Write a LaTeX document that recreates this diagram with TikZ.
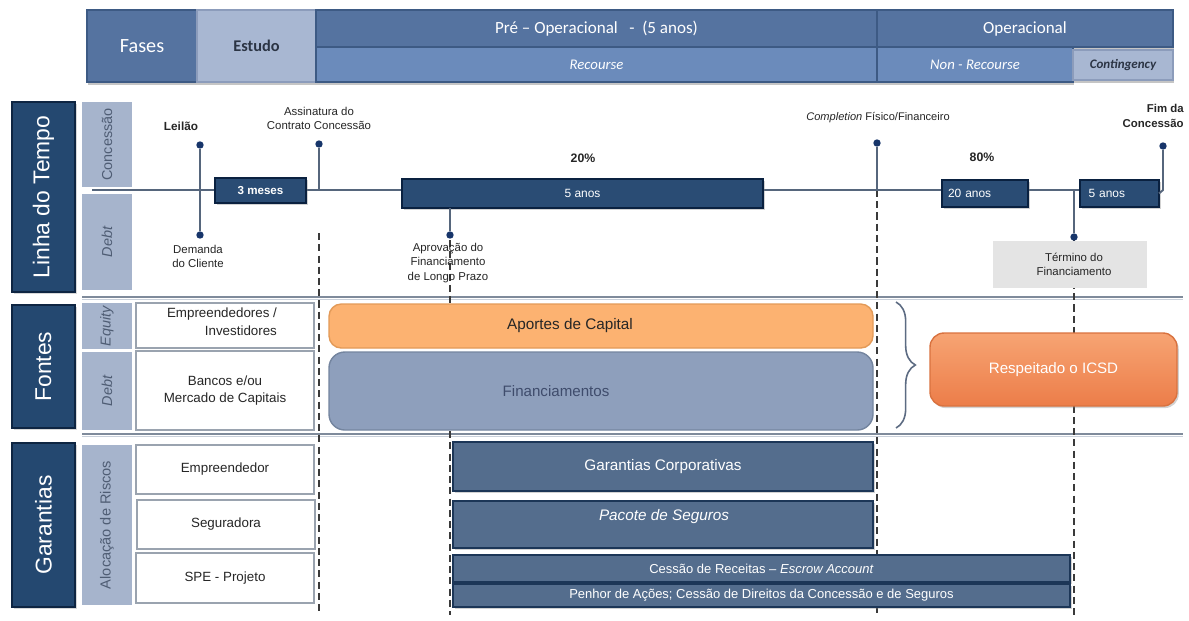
\documentclass[tikz,border=0pt]{standalone}
\usepackage{fontspec}
\setmainfont{Liberation Sans}
\newfontfamily\calfont{Carlito}
\usetikzlibrary{shadows,decorations.pathreplacing}
\definecolor{hdrA}{HTML}{5573A0}
\definecolor{hdrB}{HTML}{6B8BBB}
\definecolor{hdrP}{HTML}{A8B7D2}
\definecolor{hdrPE}{HTML}{8C9CBB}
\definecolor{hdrEdge}{HTML}{3D5A84}
\definecolor{navyF}{HTML}{244870}
\definecolor{navyE}{HTML}{0E2542}
\definecolor{colG}{HTML}{A6B4CC}
\definecolor{colT}{HTML}{4F5D74}
\definecolor{tlF}{HTML}{2A4C74}
\definecolor{tlE}{HTML}{0A2140}
\definecolor{barF}{HTML}{546D8D}
\definecolor{barE}{HTML}{1C3657}
\definecolor{orF}{HTML}{FCB271}
\definecolor{orE}{HTML}{E39A58}
\definecolor{finF}{HTML}{8E9FBC}
\definecolor{finE}{HTML}{74859F}
\definecolor{icsdT}{HTML}{F7A473}
\definecolor{icsdB}{HTML}{EC7D49}
\definecolor{icsdE}{HTML}{D9723F}
\definecolor{dotC}{HTML}{17356A}
\definecolor{lineC}{HTML}{56667C}
\definecolor{sepC}{HTML}{7F8B9B}
\definecolor{sepL}{HTML}{C9D0DA}
\definecolor{txtC}{HTML}{262626}
\definecolor{wboxE}{HTML}{9AA3AF}
\definecolor{dashC}{HTML}{3A3A3A}
\definecolor{braceC}{HTML}{5C6B82}
\definecolor{termF}{HTML}{E4E4E4}
\definecolor{paleT}{HTML}{2B3444}
\definecolor{finT}{HTML}{3F4C6C}
\newcommand\bx[8][]{\node[#2,anchor=north west,inner sep=0pt,outer sep=0pt,minimum width={(#6-#4)*0.02cm},minimum height={(#7-#5)*0.02cm},#1] (#3) at (#4,#5) {#8};}
\begin{document}
\begin{tikzpicture}[x=0.02cm,y=-0.02cm,
 hdrdark/.style={fill=hdrA,draw=hdrEdge,line width=0.6pt,text=white,drop shadow={shadow xshift=0.5pt,shadow yshift=-1.5pt,opacity=0.45}},
 hdrmid/.style={fill=hdrB,draw=hdrEdge,line width=0.6pt,text=white,drop shadow={shadow xshift=0.5pt,shadow yshift=-1.5pt,opacity=0.45}},
 hdrpale/.style={fill=hdrP,draw=hdrPE,line width=0.6pt,text=paleT,drop shadow={shadow xshift=0.5pt,shadow yshift=-1.5pt,opacity=0.45}},
 navybox/.style={fill=navyF,draw=navyE,line width=1.6pt,drop shadow={shadow xshift=1pt,shadow yshift=-1pt,opacity=0.3}},
 colbox/.style={fill=colG},
 termbx/.style={fill=termF},
 wbox/.style={fill=white,draw=wboxE,line width=0.7pt,text=txtC,align=center,font=\fontsize{7.6}{9.5}\selectfont,drop shadow={shadow xshift=0.8pt,shadow yshift=-0.8pt,opacity=0.25}},
 tlbox/.style={fill=tlF,draw=tlE,line width=1.5pt,text=white,font=\bfseries\fontsize{6.6}{8}\selectfont,drop shadow={shadow xshift=1pt,shadow yshift=-1pt,opacity=0.35}},
 gbar/.style={fill=barF,draw=barE,line width=1.3pt,text=white,drop shadow={shadow xshift=1pt,shadow yshift=-1pt,opacity=0.35}},
 ornbox/.style={rounded corners=7pt,fill=orF,draw=orE,line width=0.8pt},
 finbox/.style={rounded corners=9pt,fill=finF,draw=finE,line width=0.8pt},
 icsdbox/.style={rounded corners=8pt,top color=icsdT,bottom color=icsdB,draw=icsdE,line width=0.8pt,text=white,font=\fontsize{8.6}{10}\selectfont,drop shadow={shadow xshift=1pt,shadow yshift=-1.2pt,opacity=0.35}},
 tdot/.style={circle,fill=dotC,inner sep=0pt,minimum size=4.2pt},
 stem/.style={draw=lineC,line width=1.1pt},
 vdash/.style={draw=dashC,line width=1pt,dash pattern=on 4pt off 2.4pt},
 sepline/.style={draw=sepC,line width=1.3pt},
 lbl/.style={text=txtC,align=center,inner sep=0pt,font=\fontsize{6.5}{8}\selectfont},
 rottxt/.style={rotate=90,text=colT,inner sep=0pt}
]
\useasboundingbox (0,0) rectangle (1189,620);
\fill[white] (0,0) rectangle (1189,620);

% ---------- header ----------
\bx[font=\calfont\fontsize{11.5}{13}\selectfont]{hdrdark}{fases}{87}{10}{197}{82}{Fases}
\bx[font=\calfont\bfseries\fontsize{9.3}{11}\selectfont]{hdrpale}{estudo}{197}{10}{316}{82}{Estudo}
\bx[font=\calfont\fontsize{9.7}{11}\selectfont]{hdrdark}{preop}{316}{10}{877}{47}{Pré – Operacional \ \ -\ \ (5 anos)}
\bx[font=\calfont\itshape\fontsize{8.4}{10}\selectfont]{hdrmid}{recourse}{316}{47}{877}{82}{Recourse}
\bx[font=\calfont\fontsize{9.7}{11}\selectfont]{hdrdark}{oper}{877}{10}{1173}{47}{Operacional}
\bx[font=\calfont\itshape\fontsize{8.4}{10}\selectfont]{hdrmid}{nonrec}{877}{47}{1073}{82}{Non - Recourse}
\bx[font=\calfont\bfseries\itshape\fontsize{7.4}{9}\selectfont]{hdrpale}{conting}{1073}{50}{1173}{80}{Contingency}

% ---------- side labels ----------
\bx{navybox}{linha}{12}{102}{75}{292}{}
\node[rotate=90,text=white,font=\fontsize{13}{15}\selectfont] (linhaT) at (linha.center) {Linha do Tempo};
\bx{navybox}{fontes}{12}{305}{75}{428}{}
\node[rotate=90,text=white,font=\fontsize{13}{15}\selectfont] (fontesT) at (fontes.center) {Fontes};
\bx{navybox}{garant}{12}{443}{75}{607}{}
\node[rotate=90,text=white,font=\fontsize{13}{15}\selectfont] (garantT) at (garant.center) {Garantias};

\bx{colbox}{concC}{82}{102}{132}{187}{}
\node[rottxt,font=\fontsize{8.2}{10}\selectfont] (concT) at (concC.center) {Concessão};
\bx{colbox}{debtC}{82}{194}{132}{290}{}
\node[rottxt,font=\itshape\fontsize{8.2}{10}\selectfont] (debtT) at (debtC.center) {Debt};
\bx{colbox}{eqC}{82}{303}{132}{349}{}
\node[rottxt,font=\itshape\fontsize{8.2}{10}\selectfont] (eqT) at (eqC.center) {Equity};
\bx{colbox}{debt2C}{82}{352}{132}{430}{}
\node[rottxt,font=\itshape\fontsize{8.2}{10}\selectfont] (debt2T) at (debt2C.center) {Debt};
\bx{colbox}{alocC}{82}{445}{132}{605}{}
\node[rottxt,font=\fontsize{8.3}{10}\selectfont] (alocT) at (alocC.center) {Alocação de Riscos};

% ---------- separators ----------
\coordinate (sa1) at (82,297); \coordinate (sa2) at (1183,297);
\coordinate (sb1) at (82,434); \coordinate (sb2) at (1183,434);
\draw[sepline] (sa1) -- (sa2);
\draw[draw=sepL,line width=0.8pt] ([yshift=-1.5pt]sa1) -- ([yshift=-1.5pt]sa2);
\draw[sepline] (sb1) -- (sb2);
\draw[draw=sepL,line width=0.8pt] ([yshift=-1.5pt]sb1) -- ([yshift=-1.5pt]sb2);

% ---------- dashed verticals ----------
\coordinate (v1a) at (319,233); \coordinate (v1b) at (319,615);
\coordinate (v2a) at (450,240); \coordinate (v2b) at (450,615);
\coordinate (v3a) at (877,190); \coordinate (v3b) at (877,615);
\coordinate (v4a) at (1074,237); \coordinate (v4b) at (1074,615);
\draw[vdash] (v1a) -- (v1b);
\draw[vdash] (v2a) -- (v2b);
\draw[vdash] (v3a) -- (v3b);
\draw[vdash] (v4a) -- (v4b);

% ---------- timeline ----------
\coordinate (tl0) at (92,190); \coordinate (tl1) at (1080,190);
\draw[stem] (tl0) -- (tl1);
\node[tdot] (dLeiT) at (200,145) {};
\node[tdot] (dLeiB) at (200,235) {};
\draw[stem] (dLeiT) -- (dLeiB);
\node[tdot] (dAss) at (319,144) {};
\coordinate (cAss) at (319,190);
\draw[stem] (dAss) -- (cAss);
\node[tdot] (dComp) at (877,143) {};
\coordinate (cComp) at (877,190);
\draw[stem] (dComp) -- (cComp);

\bx{termbx}{termbox}{993}{241}{1147}{288}{}
\node[lbl] (tTer) at (1074,264) {Término do\\Financiamento};
\coordinate (cTer) at (1074,190);
\node[tdot] (dTer) at (1074,237) {};
\draw[stem] (cTer) -- (dTer);

\bx{tlbox}{b3m}{215}{178}{306}{203}{3 meses}
\bx[font=\fontsize{6.8}{8}\selectfont]{tlbox}{b5a}{402}{179}{763}{208}{5 anos}
\bx[font=\fontsize{6.8}{8}\selectfont,text width={74*0.02cm},align=left]{tlbox}{b20}{942}{180}{1028}{207}{20 anos}
\bx[font=\fontsize{6.8}{8}\selectfont,text width={62*0.02cm},align=left]{tlbox}{b5b}{1080}{180}{1159}{207}{5 anos}

\coordinate (cAp) at (450,208);
\node[tdot] (dAp) at (450,235) {};
\draw[stem] (b5a.south -| cAp) -- (dAp);

\coordinate (cFim) at (1163,190);
\node[tdot] (dFim) at (1163,146) {};
\draw[stem] (b5b.east) -- (cFim) -- (dFim);

% labels
\node[lbl,font=\bfseries\fontsize{6.7}{8}\selectfont] (tLei) at (181,126) {Leilão};
\node[lbl] (tAss) at (319,118) {Assinatura do\\Contrato Concessão};
\node[lbl,font=\fontsize{6.3}{8}\selectfont] (tComp) at (878,118) {\textit{Completion} Físico/Financeiro};
\node[lbl,align=right,anchor=east,font=\bfseries\fontsize{6.5}{8.5}\selectfont] (tFim) at (1184,116) {Fim da\\Concessão};
\node[lbl,font=\bfseries\fontsize{7}{8}\selectfont] (t20) at (583,158) {20\%};
\node[lbl,font=\bfseries\fontsize{7}{8}\selectfont] (t80) at (982,157) {80\%};
\node[lbl] (tDem) at (198,256) {Demanda\\do Cliente};
\node[lbl] (tAp) at (448,263) {Aprovação do\\Financiamento\\de Longo Prazo};

% ---------- Fontes ----------
\bx{wbox}{empInv}{136}{303}{314}{348}{}
\node[text=txtC,align=right,inner sep=0pt,font=\fontsize{7.6}{10.2}\selectfont] (empInvT) at (222,322) {Empreendedores /\\Investidores};
\bx{wbox}{bancos}{136}{351}{314}{430}{Bancos e/ou\\Mercado de Capitais}

\bx{ornbox}{aportes}{329}{304}{873}{348}{}
\node[text=txtC,font=\fontsize{8.7}{10}\selectfont] (aportesT) at (570,326) {Aportes de Capital};
\bx{finbox}{financ}{329}{352}{873}{430}{}
\node[text=finT,font=\fontsize{8.6}{10}\selectfont] (financT) at (556,391) {Financiamentos};

\coordinate (br1) at (896,302); \coordinate (br2) at (896,428);
\draw[draw=braceC,line width=0.9pt,decorate,decoration={brace,amplitude=11pt}] (br1) -- (br2);

\bx{icsdbox}{icsd}{930}{333}{1177}{406}{Respeitado o ICSD}

% ---------- Garantias ----------
\bx{wbox}{empr}{136}{445}{314}{494}{Empreendedor}
\bx{wbox}{segur}{137}{500}{315}{549}{Seguradora}
\bx{wbox}{spe}{136}{553}{314}{603}{SPE - Projeto}

\bx[font=\fontsize{8.7}{10}\selectfont]{gbar}{gcorp}{453}{442}{873}{491}{Garantias Corporativas}
\bx{gbar}{pacote}{453}{501}{873}{548}{}
\node[text=white,font=\itshape\fontsize{8.7}{10}\selectfont] (pacoteT) at (664,517) {Pacote de Seguros};
\bx[font=\fontsize{7.4}{9}\selectfont]{gbar}{cessao}{453}{555}{1070}{582}{Cessão de Receitas – \textit{Escrow Account}}
\bx[font=\fontsize{7.4}{9}\selectfont]{gbar}{penhor}{453}{584}{1070}{607}{Penhor de Ações; Cessão de Direitos da Concessão e de Seguros}
\end{tikzpicture}
\end{document}
